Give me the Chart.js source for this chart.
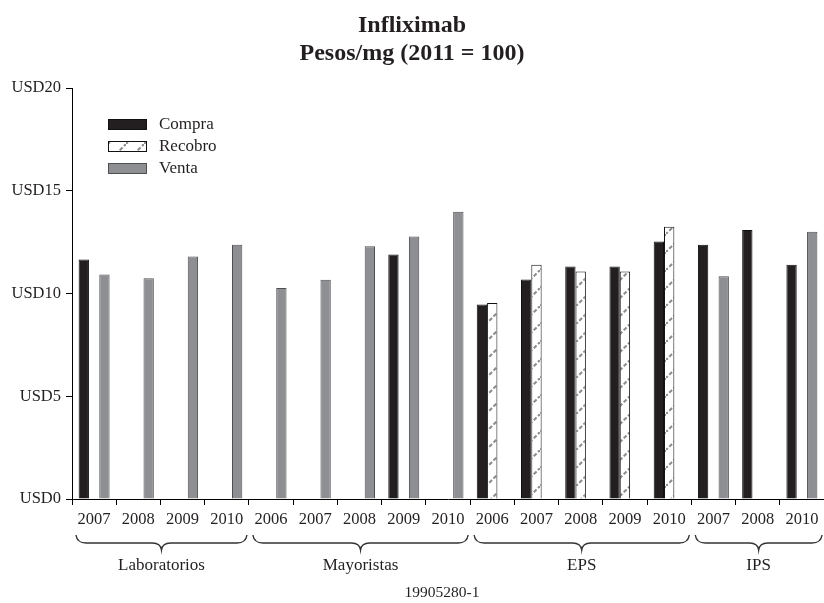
<!DOCTYPE html>
<html>
<head>
<meta charset="utf-8">
<script src="https://cdn.jsdelivr.net/npm/chart.js@4"></script>
<style>
  html, body { margin: 0; padding: 0; background: #fff; }
  #chart { display: block; }
</style>
</head>
<body>
<canvas id="chart" width="824" height="603"></canvas>
<script>
const YEARS = [
  "2007", "2008", "2009", "2010",
  "2006", "2007", "2008", "2009", "2010",
  "2006", "2007", "2008", "2009", "2010",
  "2007", "2008", "2010"
];
const GROUPS = ["Laboratorios", "Mayoristas", "EPS", "IPS"];
const GROUP_SIZES = [4, 5, 5, 3];

const COMPRA = [11.66, null, null, null, null, null, null, 11.9, null, 9.47, 10.69, 11.32, 11.32, 12.54, 12.38, 13.1, 11.4];
const RECOBRO = [null, null, null, null, null, null, null, null, null, 9.54, 11.4, 11.08, 11.08, 13.25, null, null, null];
const VENTA = [10.93, 10.75, 11.81, 12.38, 10.27, 10.67, 12.3, 12.78, 13.98, null, null, null, null, null, 10.84, null, 13.01];

const Y_TICKS = [0, 5, 10, 15, 20];

const SERIF = "'Liberation Serif', 'DejaVu Serif', serif";
const INK = "#231f20";

// white tile with a dashed grey diagonal, for Recobro
function hatch() {
  const s = 18;
  const c = document.createElement("canvas");
  c.width = s; c.height = s;
  const g = c.getContext("2d");
  g.fillStyle = "#fff";
  g.fillRect(0, 0, s, s);
  g.strokeStyle = "#8c8c8c";
  g.lineWidth = 2;
  g.setLineDash([4, 2]);
  g.beginPath();
  g.moveTo(-1, s + 1);
  g.lineTo(s + 1, -1);
  g.stroke();
  return g.createPattern(c, "repeat");
}

const recobroFill = hatch();

// legend, braces, group names and the figure number
const extras = {
  id: "extras",
  afterDraw(chart) {
    const ctx = chart.ctx;
    const x = chart.scales.x;
    ctx.save();

    // legend
    chart.data.datasets.forEach((ds, i) => {
      const top = 119 + i * 22;
      ctx.fillStyle = ds.backgroundColor;
      ctx.fillRect(108, top, 39, 11);
      ctx.strokeStyle = ds.borderColor;
      ctx.lineWidth = 1;
      ctx.strokeRect(108.5, top + 0.5, 38, 10);
      ctx.fillStyle = INK;
      ctx.font = "17px " + SERIF;
      ctx.textBaseline = "middle";
      ctx.textAlign = "left";
      ctx.fillText(ds.label, 159, top + 6);
    });

    // braces under each group
    const half = (x.getPixelForValue(1) - x.getPixelForValue(0)) / 2;
    let start = 0;
    GROUP_SIZES.forEach((n, gi) => {
      const left = x.getPixelForValue(start) - half + 4;
      const right = x.getPixelForValue(start + n - 1) + half - 2;
      const mid = (left + right) / 2;
      const y0 = 535, y1 = 543, y2 = 550;
      ctx.strokeStyle = "#333";
      ctx.lineWidth = 1.4;
      ctx.beginPath();
      ctx.moveTo(left, y0);
      ctx.quadraticCurveTo(left + 1, y1, left + 10, y1);
      ctx.lineTo(mid - 9, y1);
      ctx.quadraticCurveTo(mid - 1, y1, mid, y2);
      ctx.quadraticCurveTo(mid + 1, y1, mid + 9, y1);
      ctx.lineTo(right - 10, y1);
      ctx.quadraticCurveTo(right - 1, y1, right, y0);
      ctx.stroke();

      ctx.fillStyle = INK;
      ctx.font = "17px " + SERIF;
      ctx.textAlign = "center";
      ctx.textBaseline = "middle";
      ctx.fillText(GROUPS[gi], mid, 566);
      start += n;
    });

    ctx.font = "15.5px " + SERIF;
    ctx.fillText("19905280-1", 442, 593);
    ctx.restore();
  }
};

new Chart(document.getElementById("chart"), {
  type: "bar",
  data: {
    labels: YEARS,
    datasets: [
      { label: "Compra", data: COMPRA, backgroundColor: INK, borderColor: "#111", borderWidth: 1 },
      { label: "Recobro", data: RECOBRO, backgroundColor: recobroFill, borderColor: "#111", borderWidth: 1 },
      { label: "Venta", data: VENTA, backgroundColor: "#8e8f92", borderColor: "#4f4f51", borderWidth: 1 }
    ]
  },
  options: {
    responsive: false,
    animation: false,
    categoryPercentage: 0.7,
    barPercentage: 1.0,
    layout: { padding: 0 },
    plugins: {
      legend: { display: false },
      tooltip: { enabled: false },
      title: {
        display: true,
        text: ["Infliximab", "Pesos/mg (2011 = 100)"],
        color: INK,
        font: { family: SERIF, size: 24, weight: "bold", lineHeight: 1.17 },
        padding: { top: 12, bottom: 20 }
      }
    },
    scales: {
      x: {
        offset: true,
        grid: { offset: true, drawOnChartArea: false, tickLength: 6, color: "#000" },
        border: { color: "#000", width: 1 },
        ticks: { color: INK, font: { family: SERIF, size: 16.5 }, padding: 5, maxRotation: 0, autoSkip: false },
        afterFit(s) { s.height = 104; }
      },
      y: {
        min: Y_TICKS[0],
        max: Y_TICKS[Y_TICKS.length - 1],
        afterBuildTicks(s) { s.ticks = Y_TICKS.map(v => ({ value: v })); },
        grid: { drawOnChartArea: false, tickLength: 6, color: "#000" },
        border: { color: "#000", width: 1 },
        ticks: { color: INK, font: { family: SERIF, size: 16.5 }, padding: 5, callback: v => "USD" + v },
        afterFit(s) { s.width = 72; }
      }
    }
  },
  plugins: [extras]
});
</script>
</body>
</html>
